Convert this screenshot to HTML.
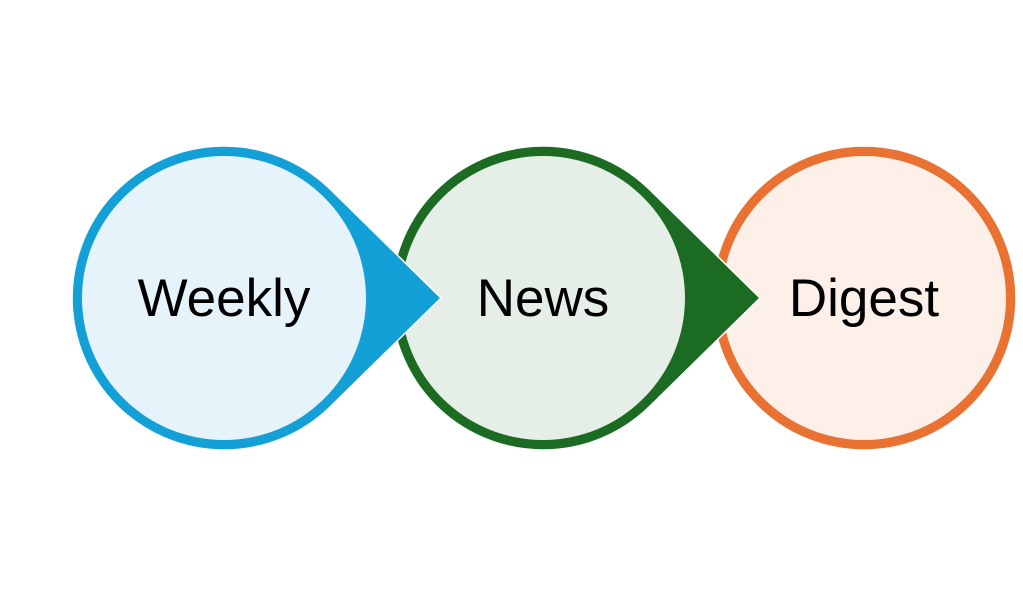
<!DOCTYPE html>
<html><head><meta charset="utf-8"><style>
html,body{margin:0;padding:0;background:#fff;}
svg{display:block;}
text{font-family:"Liberation Sans",sans-serif;font-size:53px;fill:#000;}
</style></head><body>
<svg width="1023" height="597" viewBox="0 0 1023 597" xmlns="http://www.w3.org/2000/svg">
  <circle cx="864" cy="298" r="152" fill="#e97132" stroke="#fff" stroke-width="1.5"/>
  <circle cx="864" cy="298" r="142" fill="#fcf0e9"/>
  <text x="864" y="316" text-anchor="middle">Digest</text>
  <path d="M649.4 189.4 L760 298 L649.4 406.6 A152 152 0 1 1 649.4 189.4 Z" fill="#1b6b23" stroke="#fff" stroke-width="1.5"/>
  <circle cx="543" cy="298" r="142" fill="#e6efe7"/>
  <text x="543" y="316" text-anchor="middle">News</text>
  <path d="M330.4 189.4 L441 298 L330.4 406.6 A152 152 0 1 1 330.4 189.4 Z" fill="#12a0d7" stroke="#fff" stroke-width="1.5"/>
  <circle cx="224" cy="298" r="142" fill="#e6f3fa"/>
  <text x="224" y="316" text-anchor="middle">Weekly</text>
</svg>
</body></html>
